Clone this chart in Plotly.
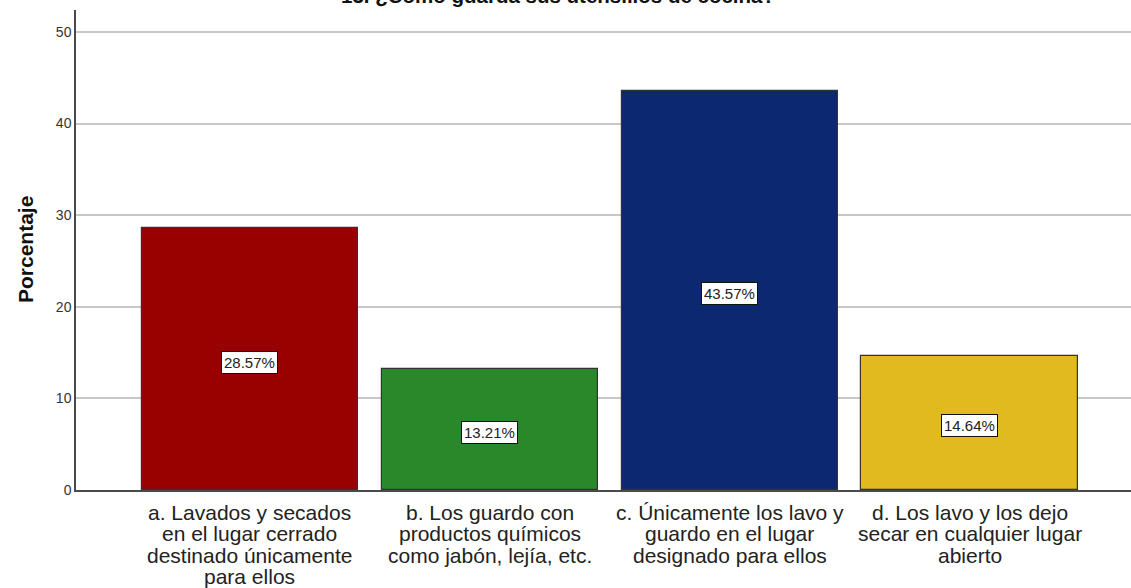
import plotly.graph_objects as go

# Survey question 13: how kitchen utensils are stored
title_text = "13. ¿Cómo guarda sus utensilios de cocina?"
y_title = "Porcentaje"
categories = [
    "a. Lavados y secados<br>en el lugar cerrado<br>destinado únicamente<br>para ellos",
    "b. Los guardo con<br>productos químicos<br>como jabón, lejía, etc.",
    "c. Únicamente los lavo y<br>guardo en el lugar<br>designado para ellos",
    "d. Los lavo y los dejo<br>secar en cualquier lugar<br>abierto",
]
percentages = [28.57, 13.21, 43.57, 14.64]
bar_colors = ["#990000", "#2a882a", "#0c2870", "#e0ba1e"]
y_ticks = [0, 10, 20, 30, 40, 50]

FONT = "Liberation Sans, Arial, sans-serif"
x_pos = list(range(len(categories)))

fig = go.Figure()
fig.add_trace(go.Bar(
    x=x_pos,
    y=percentages,
    width=0.904,
    marker=dict(color=bar_colors, line=dict(color="#333333", width=1.2)),
    hoverinfo="skip",
))

# Boxed value labels at mid-height of each bar
for xi, v in zip(x_pos, percentages):
    fig.add_annotation(
        x=xi, y=v / 2, xref="x", yref="y",
        text=f"{v:.2f}%",
        showarrow=False,
        yshift=-3,
        font=dict(family=FONT, size=15, color="#222222"),
        bgcolor="white",
        bordercolor="#111111",
        borderwidth=1,
        borderpad=2,
    )

# Category labels below the axis, one line at a time for tight leading
line_step = 21.3
for xi, label in zip(x_pos, categories):
    for k, line in enumerate(label.split("<br>")):
        fig.add_annotation(
            x=xi, xref="x", y=0, yref="paper",
            text=line,
            showarrow=False,
            yanchor="top",
            yshift=-9 - k * line_step,
            font=dict(family=FONT, size=21, color="#222222"),
        )

# Chart title sits at the very top edge
fig.add_annotation(
    x=0.457, xref="paper", y=1, yref="paper",
    text=f"<b>{title_text}</b>",
    showarrow=False,
    yanchor="bottom",
    yshift=1,
    font=dict(family=FONT, size=20.5, color="#111111"),
)

# Vertical axis title
fig.add_annotation(
    x=-0.0483, xref="paper", y=0.5, yref="paper",
    text=f"<b>{y_title}</b>",
    showarrow=False,
    textangle=-90,
    xanchor="center",
    yanchor="middle",
    font=dict(family=FONT, size=21, color="#111111"),
)

fig.update_layout(
    width=1131,
    height=588,
    margin=dict(l=76, r=0, t=10, b=98),
    paper_bgcolor="white",
    plot_bgcolor="white",
    showlegend=False,
    bargap=0,
    font=dict(family=FONT, color="#222222"),
    xaxis=dict(
        tickmode="array",
        tickvals=x_pos,
        showticklabels=False,
        range=[-0.725, 3.671],
        showgrid=False,
        zeroline=False,
        showline=True,
        linecolor="#4a4a4a",
        linewidth=1.5,
        ticks="",
        fixedrange=True,
    ),
    yaxis=dict(
        range=[0, 52.4],
        tickmode="array",
        tickvals=y_ticks,
        showgrid=True,
        gridcolor="#c8c8c8",
        gridwidth=1.5,
        zeroline=False,
        showline=True,
        linecolor="#4a4a4a",
        linewidth=1.5,
        ticks="",
        tickfont=dict(size=14, color="#333333"),
        fixedrange=True,
    ),
)

fig.write_html("out.html", config={"displayModeBar": False})
